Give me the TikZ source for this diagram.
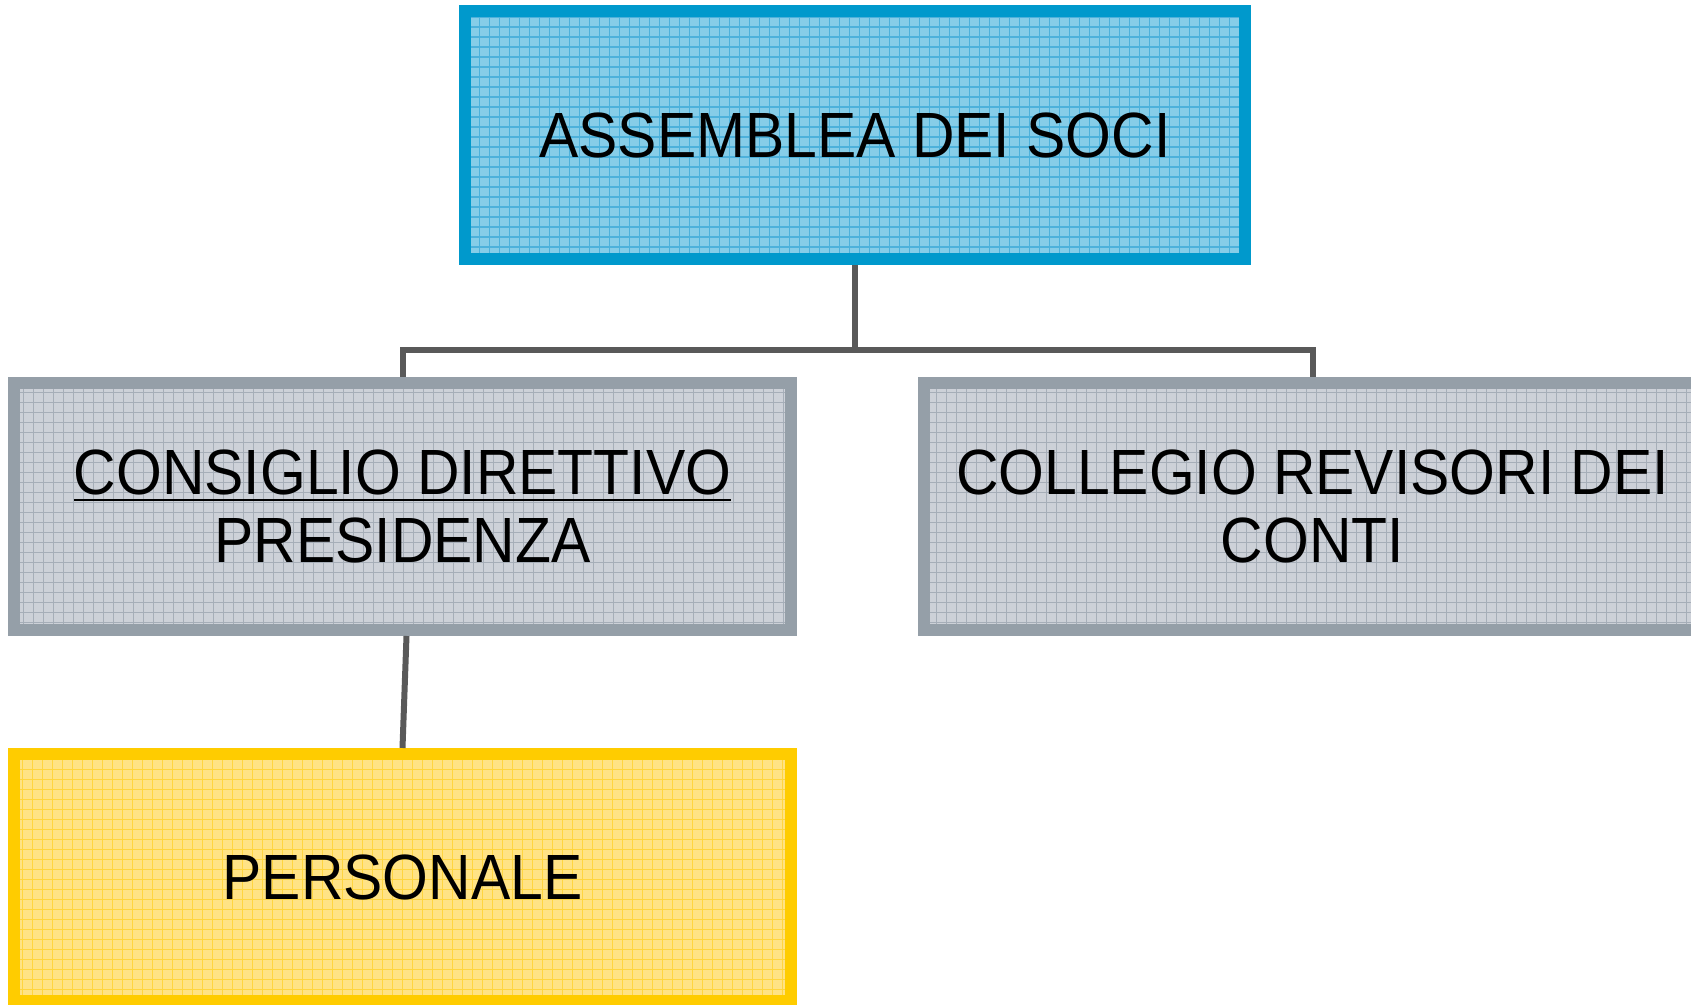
\documentclass[tikz,border=0pt]{standalone}
\usepackage{fontspec}
\setmainfont[FakeStretch=0.92]{Liberation Sans}
\usetikzlibrary{positioning}
\definecolor{socblue}{HTML}{0099CC}
\definecolor{socbluefill}{HTML}{86CDE8}
\definecolor{socblueline}{HTML}{4DB1DB}
\definecolor{dirgray}{HTML}{959FA8}
\definecolor{dirgrayfill}{HTML}{CDD1D8}
\definecolor{dirgrayline}{HTML}{A6AEB8}
\definecolor{persyellow}{HTML}{FFCC00}
\definecolor{persyellowfill}{HTML}{FFE385}
\definecolor{persyellowline}{HTML}{FFD540}
\definecolor{linkgray}{HTML}{595959}
\begin{document}
\begin{tikzpicture}[
    box/.style={draw, line width=1.2mm, minimum width=7.77cm, minimum height=2.47cm,
      inner sep=0pt, align=center, font=\fontsize{18.2}{19.4}\selectfont},
    gridfill/.style={path picture={\draw[#1, line width=0.3pt]
      (path picture bounding box.south west) grid[step=0.1] (path picture bounding box.north east);}},
    link/.style={draw=linkgray, line width=0.6mm}
  ]
  \useasboundingbox (0,0) rectangle (16.91,-10.05);
  \node[box, draw=socblue, fill=socbluefill, gridfill=socblueline, minimum width=7.8cm, minimum height=2.48cm]
    (assemblea) at (8.55,-1.35) {ASSEMBLEA DEI SOCI};
  \node[box, draw=dirgray, fill=dirgrayfill, gridfill=dirgrayline]
    (consiglio) at (4.025,-5.065) {\underline{CONSIGLIO DIRETTIVO}\\PRESIDENZA};
  \node[box, draw=dirgray, fill=dirgrayfill, gridfill=dirgrayline]
    (collegio) at (13.125,-5.065) {COLLEGIO REVISORI DEI\\CONTI};
  \node[box, draw=persyellow, fill=persyellowfill, gridfill=persyellowline]
    (personale) at (4.025,-8.775) {PERSONALE};
  % connectors
  \coordinate (fork) at ([yshift=-0.85cm]assemblea.south);
  \draw[link] (assemblea.south) -- (fork);
  \draw[link] (fork) -| (consiglio.north);
  \draw[link] (fork) -| (collegio.north);
  \draw[link] ([xshift=0.04cm]consiglio.south) -- (personale.north);
\end{tikzpicture}
\end{document}
